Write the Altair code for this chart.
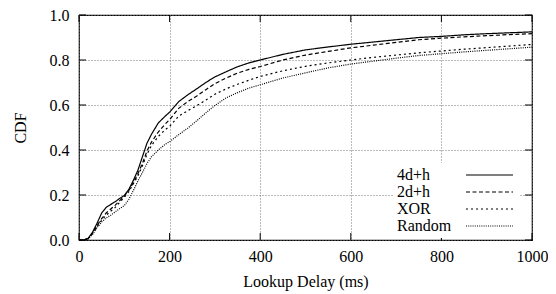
import altair as alt
import pandas as pd

delay = [0, 10, 20, 30, 40, 50, 60, 70, 80, 90, 100, 110, 120, 130, 140, 150, 160, 175, 190, 200,
         220, 240, 260, 280, 300, 325, 350, 375, 400, 450, 500, 550, 600, 650, 700, 750, 800,
         850, 900, 950, 1000]

cdf_4dh = [0, 0.0, 0.007, 0.035, 0.075, 0.12, 0.145, 0.158, 0.17, 0.185, 0.198, 0.225, 0.265, 0.31,
           0.37, 0.43, 0.47, 0.52, 0.55, 0.568, 0.615, 0.645, 0.672, 0.70, 0.725, 0.748, 0.77,
           0.787, 0.80, 0.825, 0.845, 0.858, 0.870, 0.88, 0.89, 0.90, 0.905, 0.912, 0.917,
           0.921, 0.925]
cdf_2dh = [0, 0.0, 0.006, 0.03, 0.065, 0.095, 0.12, 0.138, 0.155, 0.175, 0.195, 0.22, 0.255, 0.295,
           0.34, 0.395, 0.435, 0.48, 0.515, 0.535, 0.585, 0.615, 0.64, 0.668, 0.695, 0.72, 0.742,
           0.758, 0.771, 0.80, 0.822, 0.838, 0.854, 0.866, 0.878, 0.89, 0.897, 0.903, 0.908,
           0.913, 0.917]
cdf_xor = [0, 0.0, 0.006, 0.03, 0.06, 0.088, 0.11, 0.128, 0.145, 0.168, 0.19, 0.215, 0.25, 0.285,
           0.33, 0.38, 0.42, 0.46, 0.49, 0.505, 0.55, 0.575, 0.597, 0.622, 0.648, 0.672, 0.692,
           0.71, 0.727, 0.752, 0.772, 0.787, 0.80, 0.812, 0.822, 0.832, 0.84, 0.848, 0.855,
           0.862, 0.869]
cdf_random = [0, 0.0, 0.005, 0.025, 0.055, 0.08, 0.098, 0.11, 0.125, 0.14, 0.153, 0.18, 0.22, 0.262,
              0.3, 0.34, 0.37, 0.4, 0.425, 0.437, 0.468, 0.497, 0.53, 0.565, 0.598, 0.632, 0.655,
              0.675, 0.69, 0.72, 0.743, 0.765, 0.782, 0.795, 0.808, 0.82, 0.828, 0.836, 0.843,
              0.85, 0.857]

series_names = ["4d+h", "2d+h", "XOR", "Random"]
series_values = [cdf_4dh, cdf_2dh, cdf_xor, cdf_random]

x_ticks = [0, 200, 400, 600, 800, 1000]
y_ticks = [0.0, 0.2, 0.4, 0.6, 0.8, 1.0]

rows = []
for name, vals in zip(series_names, series_values):
    for d, c in zip(delay, vals):
        rows.append({"delay": d, "cdf": c, "series": name})
df = pd.DataFrame(rows)

FONT = "Liberation Serif"
PLOT_W = 453
PLOT_H = 225
xscale = alt.Scale(domain=[0, 1000], nice=False, zero=False)
yscale = alt.Scale(domain=[0, 1], nice=False)

lines = alt.Chart(df).mark_line(color="black", strokeCap="butt").encode(
    x=alt.X("delay:Q", scale=xscale,
            axis=alt.Axis(values=x_ticks, title="Lookup Delay (ms)", format="d",
                          labelFlush=False)),
    y=alt.Y("cdf:Q", scale=yscale,
            axis=alt.Axis(values=y_ticks, title="CDF", format=".1f", labelFlush=False)),
    strokeDash=alt.StrokeDash("series:N",
                              scale=alt.Scale(domain=series_names,
                                              range=[[1, 0], [4, 2.5], [2, 3], [1, 1.2]]),
                              legend=alt.Legend(title=None)),
    strokeWidth=alt.StrokeWidth("series:N",
                                scale=alt.Scale(domain=series_names,
                                                range=[1.2, 1.2, 1.2, 0.9]),
                                legend=alt.Legend(title=None)),
    detail="series:N",
)

TX = 7.0 * 1000 / PLOT_W  # tick length in x data units (~7px)
TY = 7.0 / PLOT_H         # tick length in y data units (~7px)
xt = pd.DataFrame({"v": x_ticks})
yt = pd.DataFrame({"v": y_ticks})

bottom_ticks = alt.Chart(xt).mark_rule(color="black").encode(
    x=alt.X("v:Q", scale=xscale), y=alt.datum(0, scale=yscale), y2=alt.datum(TY))
top_ticks = alt.Chart(xt).mark_rule(color="black").encode(
    x=alt.X("v:Q", scale=xscale), y=alt.datum(1 - TY, scale=yscale), y2=alt.datum(1))
left_ticks = alt.Chart(yt).mark_rule(color="black").encode(
    y=alt.Y("v:Q", scale=yscale), x=alt.datum(0, scale=xscale), x2=alt.datum(TX))
right_ticks = alt.Chart(yt).mark_rule(color="black").encode(
    y=alt.Y("v:Q", scale=yscale), x=alt.datum(1000 - TX, scale=xscale), x2=alt.datum(1000))

# legend sample line: drawn to the right of the label (gnuplot style)
SAMPLE_PATH = "M12.2,0H21.6"

chart = alt.layer(lines, bottom_ticks, top_ticks, left_ticks, right_ticks).properties(
    width=PLOT_W, height=PLOT_H,
    autosize=alt.AutoSizeParams(type="none"),
    padding={"left": 71, "top": 7, "right": 16, "bottom": 52},
    background="white",
).configure_view(
    stroke="black", strokeWidth=1.2
).configure_axis(
    domain=False, ticks=False,
    grid=True, gridDash=[1, 2], gridColor="#777777", gridWidth=1,
    labelFont=FONT, labelFontSize=16, labelColor="black",
    titleFont=FONT, titleFontSize=16, titleFontWeight="normal", titleColor="black",
).configure_axisX(
    labelPadding=8, titlePadding=9,
).configure_axisY(
    labelPadding=10, titlePadding=21,
).configure_legend(
    orient="none", legendX=314, legendY=148,
    fillColor="white", padding=4,
    symbolType=SAMPLE_PATH, symbolSize=100, symbolStrokeColor="black",
    rowPadding=1,
    labelOffset={"expr": "-16"},
    labelFont=FONT, labelFontSize=16, labelColor="black", labelLimit=300,
)

chart.save("out.html", embed_options={"renderer": "svg", "actions": False})
